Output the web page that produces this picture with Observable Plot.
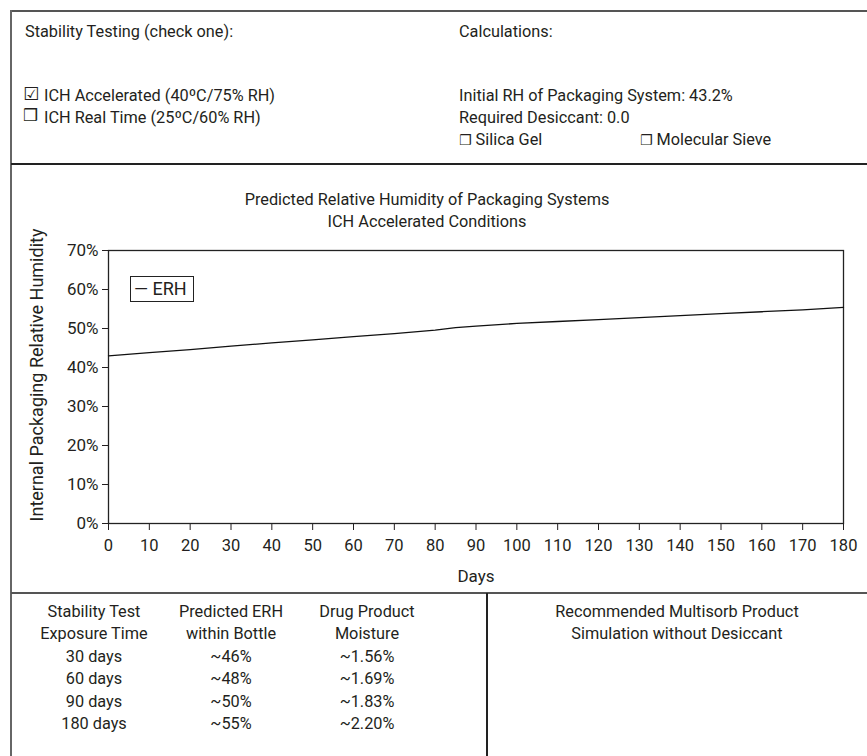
<!DOCTYPE html>
<html>
<head>
<meta charset="utf-8">
<script src="https://cdn.jsdelivr.net/npm/d3@7"></script>
<script src="https://cdn.jsdelivr.net/npm/@observablehq/plot@0.6"></script>
<style>
  html, body { margin: 0; padding: 0; background: #fff; }
  body { width: 867px; height: 756px; position: relative; overflow: hidden;
         font-family: Roboto, "Open Sans", sans-serif; font-size: 16.3px; color: #231f20; }
  .t { position: absolute; white-space: nowrap; line-height: 1; }
  .c { text-align: center; }
  .ln { position: absolute; }
  .box { font-family: "DejaVu Sans", sans-serif; }
  #chart { position: absolute; left: 0; top: 164px; }
  #chart g[aria-label="y-axis label"] text { font-size: 18px; }
  #chart g[aria-label="x-axis label"] text { font-size: 17px; }
  #chart g[aria-label="y-axis tick label"] text { font-size: 17px; }
</style>
</head>
<body>
<!-- frame lines -->
<div class="ln" style="left:11px;top:10px;width:856px;height:2px;background:#555"></div>
<div class="ln" style="left:10px;top:10px;width:2px;height:746px;background:#666"></div>
<div class="ln" style="left:11px;top:163px;width:856px;height:2px;background:#222"></div>
<div class="ln" style="left:11px;top:592px;width:856px;height:2px;background:#555"></div>
<div class="ln" style="left:486px;top:593px;width:2px;height:163px;background:#222"></div>

<div id="chart"></div>

<script>
// ---- data ----
const days = [0, 10, 20, 30, 40, 50, 60, 70, 80, 85, 90, 100, 110, 120, 130, 140, 150, 160, 170, 180];
const erh  = [43.0, 43.8, 44.6, 45.5, 46.3, 47.1, 47.9, 48.7, 49.6, 50.2, 50.6, 51.3, 51.8, 52.3, 52.8, 53.3, 53.8, 54.3, 54.8, 55.4];
const xTicks = [0,10,20,30,40,50,60,70,80,90,100,110,120,130,140,150,160,170,180];
const yTicks = [0, 0.1, 0.2, 0.3, 0.4, 0.5, 0.6, 0.7];
const chartTitle = ["Predicted Relative Humidity of Packaging Systems", "ICH Accelerated Conditions"];
const seriesName = "ERH";

const stabilityOptions = [
  {checked: true,  label: "ICH Accelerated (40ºC/75% RH)"},
  {checked: false, label: "ICH Real Time (25ºC/60% RH)"}
];
const initialRH = "43.2%";
const requiredDesiccant = "0.0";
const desiccantTypes = ["Silica Gel", "Molecular Sieve"];

const tableHeader1 = ["Stability Test", "Predicted ERH", "Drug Product"];
const tableHeader2 = ["Exposure Time", "within Bottle", "Moisture"];
const exposureTimes = ["30 days", "60 days", "90 days", "180 days"];
const predictedERH = ["~46%", "~48%", "~50%", "~55%"];
const drugMoisture = ["~1.56%", "~1.69%", "~1.83%", "~2.20%"];
const recommendation = ["Recommended Multisorb Product", "Simulation without Desiccant"];

const data = days.map((d, i) => ({day: d, rh: erh[i] / 100}));

// ---- helpers ----
function put(parent, html, left, top, cls = "t", extra = "") {
  const el = document.createElement("div");
  el.className = cls;
  el.style.left = left + "px";
  el.style.top = top + "px";
  if (extra) el.style.cssText += extra;
  el.innerHTML = html;
  parent.appendChild(el);
  return el;
}
const body = document.body;

// ---- top section ----
put(body, "Stability Testing (check one):", 25, 24);
put(body, "Calculations:", 459, 24);
stabilityOptions.forEach((o, i) => {
  put(body, o.checked ? "☑" : "❒", 23, 85 + i * 22, "t box",
      o.checked ? "font-size:18px;font-weight:bold;" : "font-size:17px;");
  put(body, o.label, 44, 88 + i * 22);
});
put(body, "Initial RH of Packaging System: " + initialRH, 459, 88);
put(body, "Required Desiccant: " + requiredDesiccant, 459, 110);
put(body, '<span class="box" style="font-size:14px">❒</span> ' + desiccantTypes[0], 459, 132);
put(body, '<span class="box" style="font-size:14px">❒</span> ' + desiccantTypes[1], 640, 132);

// ---- chart titles ----
chartTitle.forEach((s, i) => put(body, s, 0, 192 + i * 22, "t c", "width:854px;"));

// ---- chart ----
const chart = Plot.plot({
  width: 867,
  height: 429,
  marginLeft: 108,
  marginRight: 24,
  marginTop: 86,
  marginBottom: 70,
  style: {fontFamily: "Roboto, 'Open Sans', sans-serif", fontSize: "16.5px", color: "#231f20", background: "transparent"},
  x: {domain: [0, 180], ticks: xTicks, tickSize: 7, tickPadding: 9, label: "Days",
      labelAnchor: "center", labelArrow: "none", labelOffset: 58},
  y: {domain: [0, 0.7], ticks: yTicks, tickFormat: d3.format(".0%"), tickSize: 6, tickPadding: 4,
      label: "Internal Packaging Relative Humidity", labelAnchor: "center", labelArrow: "none", labelOffset: 78},
  marks: [
    Plot.frame({stroke: "#222", strokeWidth: 1.3}),
    Plot.line(data, {x: "day", y: "rh", stroke: "#111", strokeWidth: 1.3})
  ]
});
// nudge the rotated y label slightly upward, as in the original layout
const yl = chart.querySelector('g[aria-label="y-axis label"] text');
if (yl) yl.setAttribute("dx", "12");
document.getElementById("chart").appendChild(chart);

// ---- legend ----
put(body, "— " + seriesName, 130, 276, "t",
    "border:1.3px solid #222;padding:3px 6px 3px 3px;font-size:18px;background:#fff;");

// ---- table ----
const colX = [94, 231, 367];
const rowY0 = 604, rowH = 22.4;
[tableHeader1, tableHeader2].forEach((row, r) =>
  row.forEach((s, c) => put(body, s, colX[c] - 80, rowY0 + r * rowH, "t c", "width:160px;")));
exposureTimes.forEach((s, i) => {
  const y = rowY0 + (i + 2) * rowH;
  put(body, s, colX[0] - 80, y, "t c", "width:160px;");
  put(body, predictedERH[i], colX[1] - 80, y, "t c", "width:160px;");
  put(body, drugMoisture[i], colX[2] - 80, y, "t c", "width:160px;");
});
recommendation.forEach((s, i) => put(body, s, 677 - 150, rowY0 + i * rowH, "t c", "width:300px;"));
</script>
</body>
</html>
